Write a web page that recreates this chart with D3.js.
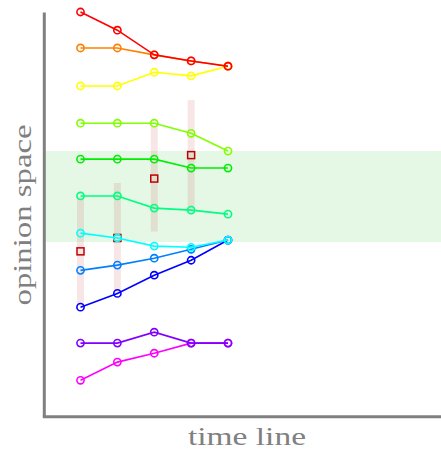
<!DOCTYPE html>
<html>
<head>
<meta charset="utf-8">
<script src="https://cdn.jsdelivr.net/npm/d3@7"></script>
<style>
  html, body { margin: 0; padding: 0; background: #fff; }
  svg { display: block; }
</style>
</head>
<body>
<svg id="chart" width="441" height="450"></svg>
<script>
// ---- data ----
const timeSteps = [0, 1, 2, 3, 4];
const seriesNames = ["s1","s2","s3","s4","s5","s6","s7","s8","s9","s10","s11"];
const seriesColors = ["#ff0000","#ff8000","#ffff00","#80ff00","#00ee00","#00ff80","#00ffff","#0080ff","#0000ff","#8000ff","#ff00ff"];
const s1  = [100.0, 95.5, 89.4, 87.9, 86.6];
const s2  = [91.1, 91.1, 89.4, 87.9, 86.6];
const s3  = [81.7, 81.7, 85.1, 84.2, 86.6];
const s4  = [72.5, 72.5, 72.5, 70.0, 65.6];
const s5  = [63.6, 63.6, 63.6, 61.4, 61.4];
const s6  = [54.5, 54.5, 51.5, 51.0, 50.0];
const s7  = [45.3, 44.1, 42.1, 41.8, 43.6];
const s8  = [36.1, 37.4, 39.1, 41.3, 43.6];
const s9  = [27.0, 30.4, 34.9, 38.6, 43.6];
const s10 = [18.1, 18.1, 20.8, 18.1, 18.1];
const s11 = [8.9, 13.4, 15.6, 18.1, 18.1];
const seriesValues = [s1,s2,s3,s4,s5,s6,s7,s8,s9,s10,s11];
// summary per time step (mean ± spread)
const statTimes = [0, 1, 2, 3];
const statMean = [40.8, 44.1, 58.8, 64.6];
const statSpread = [13.5, 13.6, 13.1, 13.6];
// highlighted band of opinion space
const bandRange = [43.1, 65.6];
const xLabel = "time line";
const yLabel = "opinion space";

// ---- layout ----
const svg = d3.select("#chart");
const mLeft = 43.8, mRight = 441, mTop = 12, mBottom = 416.3;
const x = d3.scaleLinear().domain([0, 4]).range([80.5, 228]);
const y = d3.scaleLinear().domain([0, 100]).range([mBottom, mTop]);

// band
svg.append("rect")
  .attr("x", mLeft).attr("width", mRight - mLeft)
  .attr("y", y(bandRange[1])).attr("height", y(bandRange[0]) - y(bandRange[1]))
  .attr("fill", "#e5f7e5");

// spread bars
svg.selectAll("rect.bar").data(statTimes).join("rect")
  .attr("class", "bar")
  .attr("x", (d) => x(d) - 3.5).attr("width", 7)
  .attr("y", (d, i) => y(statMean[i] + statSpread[i]))
  .attr("height", (d, i) => y(statMean[i] - statSpread[i]) - y(statMean[i] + statSpread[i]))
  .attr("fill", "rgb(200,60,60)").attr("fill-opacity", 0.13);

// mean squares
svg.selectAll("rect.mean").data(statTimes).join("rect")
  .attr("class", "mean")
  .attr("x", (d) => x(d) - 3.5).attr("width", 7)
  .attr("y", (d, i) => y(statMean[i]) - 3.5).attr("height", 7)
  .attr("fill", "none").attr("stroke", "#c00000").attr("stroke-width", 1.5);

// series, drawn last-to-first so the first series is on top
const line = d3.line().x((d, i) => x(timeSteps[i])).y((d) => y(d));
const order = d3.range(seriesValues.length).reverse();
order.forEach((k) => {
  const g = svg.append("g");
  g.append("path").datum(seriesValues[k])
    .attr("d", line).attr("fill", "none")
    .attr("stroke", seriesColors[k]).attr("stroke-width", 1.6);
  g.selectAll("circle").data(seriesValues[k]).join("circle")
    .attr("cx", (d, i) => x(timeSteps[i])).attr("cy", (d) => y(d))
    .attr("r", 3.6).attr("fill", "none")
    .attr("stroke", seriesColors[k]).attr("stroke-width", 1.6);
});

// axes (plain lines, no ticks)
const yAxis = d3.axisLeft(y).tickValues([]).tickSizeOuter(0);
const xAxisScale = d3.scaleLinear().domain([0, 1]).range([mLeft - 1.5, mRight]);
const xAxis = d3.axisBottom(xAxisScale).tickValues([]).tickSizeOuter(0);
svg.append("g").attr("transform", `translate(${mLeft},0)`).call(yAxis)
  .select(".domain").attr("stroke", "#808080").attr("stroke-width", 3);
svg.append("g").attr("transform", `translate(0,${mBottom})`).call(xAxis)
  .select(".domain").attr("stroke", "#808080").attr("stroke-width", 3);

// labels
svg.append("text")
  .attr("x", 247).attr("y", 445)
  .attr("text-anchor", "middle")
  .attr("font-family", "'Liberation Serif', 'DejaVu Serif', serif")
  .attr("font-size", 26).attr("fill", "#808080")
  .attr("textLength", 118).attr("lengthAdjust", "spacingAndGlyphs")
  .text(xLabel);
svg.append("text")
  .attr("transform", "translate(31,215) rotate(-90)")
  .attr("text-anchor", "middle")
  .attr("font-family", "'Liberation Serif', 'DejaVu Serif', serif")
  .attr("font-size", 26).attr("fill", "#808080")
  .attr("textLength", 181).attr("lengthAdjust", "spacingAndGlyphs")
  .text(yLabel);
</script>
</body>
</html>
